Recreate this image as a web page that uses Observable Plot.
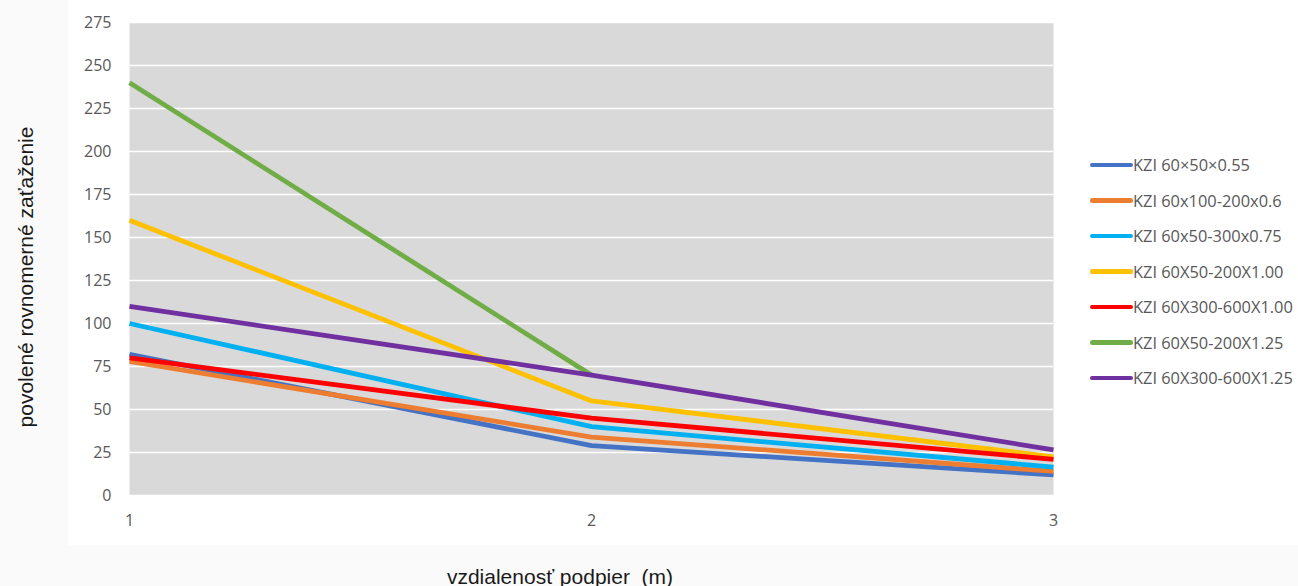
<!DOCTYPE html>
<html>
<head>
<meta charset="utf-8">
<script src="https://cdn.jsdelivr.net/npm/d3@7"></script>
<script src="https://cdn.jsdelivr.net/npm/@observablehq/plot@0.6"></script>
<style>
  html, body { margin: 0; padding: 0; background: #fafafa; }
  #wrap { position: relative; width: 1298px; height: 586px; overflow: hidden; }
  #panel { position: absolute; left: 68px; top: 0; width: 1230px; height: 545px; background: #ffffff; }
  #chart { position: absolute; left: 0; top: 0; }
  #legend { position: absolute; left: 1090px; top: 147px; font-family: "Open Sans", sans-serif; font-size: 16.4px; color: #595959; }
  .item { display: flex; align-items: center; height: 35.5px; white-space: nowrap; }
  .sw { width: 43px; height: 4.5px; border-radius: 2.5px; }
  .title { position: absolute; font-family: "Liberation Sans", Arial, sans-serif; font-size: 21px; color: #1a1a1a; white-space: pre; line-height: 1; }
  #ytitle { left: 25px; top: 277px; transform: translate(-50%, -50%) rotate(-90deg); }
  #xtitle { left: 560px; top: 576px; transform: translate(-50%, -50%); }
</style>
</head>
<body>
<div id="wrap">
  <div id="panel"></div>
  <div id="chart"></div>
  <div id="legend"></div>
  <div id="ytitle" class="title"></div>
  <div id="xtitle" class="title"></div>
</div>
<script>
const xValues = [1, 2, 3];
const seriesNames = [
  "KZI 60×50×0.55",
  "KZI 60x100-200x0.6",
  "KZI 60x50-300x0.75",
  "KZI 60X50-200X1.00",
  "KZI 60X300-600X1.00",
  "KZI 60X50-200X1.25",
  "KZI 60X300-600X1.25"
];
const seriesColors = ["#4472c4", "#ed7d31", "#00b0f0", "#ffc000", "#ff0000", "#70ad47", "#7030a0"];
const kzi_60x50x055 = [82, 29, 12];
const kzi_60x100_200x06 = [78, 34, 14];
const kzi_60x50_300x075 = [100, 40, 16.5];
const kzi_60x50_200x100 = [160, 55, 22.5];
const kzi_60x300_600x100 = [80, 45, 21];
const kzi_60x50_200x125 = [240, 70];
const kzi_60x300_600x125 = [110, 70, 26.5];
const yTicks = [0, 25, 50, 75, 100, 125, 150, 175, 200, 225, 250, 275];
const xTicks = [1, 2, 3];
const xTitle = "vzdialenosť podpier  (m)";
const yTitle = "povolené rovnomerné zaťaženie";

const seriesValues = [kzi_60x50x055, kzi_60x100_200x06, kzi_60x50_300x075, kzi_60x50_200x100, kzi_60x300_600x100, kzi_60x50_200x125, kzi_60x300_600x125];

const rows = [];
seriesNames.forEach((name, i) => {
  seriesValues[i].forEach((v, j) => rows.push({series: name, x: xValues[j], y: v}));
});

const chart = Plot.plot({
  width: 1298,
  height: 586,
  marginLeft: 129,
  marginRight: 245,
  marginTop: 22,
  marginBottom: 91,
  style: {background: "transparent", fontFamily: "'Open Sans', sans-serif", fontSize: "16px", color: "#595959"},
  x: {domain: [1, 3]},
  y: {domain: [0, 275]},
  color: {domain: seriesNames, range: seriesColors},
  marks: [
    Plot.frame({fill: "#d9d9d9", stroke: "none"}),
    Plot.gridY(yTicks, {stroke: "#ffffff", strokeOpacity: 1, strokeWidth: 1.6}),
    Plot.axisY(yTicks, {tickSize: 0, tickPadding: 18, label: null, fontSize: 16, fill: "#595959"}),
    Plot.axisX(xTicks, {tickSize: 0, tickPadding: 19, label: null, fontSize: 16, fill: "#595959", tickFormat: d => String(d)}),
    Plot.line(rows, {x: "x", y: "y", z: "series", stroke: "series", strokeWidth: 4.8, strokeLinejoin: "round", strokeLinecap: "butt"})
  ]
});
document.getElementById("chart").appendChild(chart);

document.getElementById("ytitle").textContent = yTitle;
document.getElementById("xtitle").textContent = xTitle;

const legend = document.getElementById("legend");
seriesNames.forEach((name, i) => {
  const item = document.createElement("div");
  item.className = "item";
  const sw = document.createElement("div");
  sw.className = "sw";
  sw.style.background = seriesColors[i];
  const label = document.createElement("span");
  label.textContent = name;
  item.appendChild(sw);
  item.appendChild(label);
  legend.appendChild(item);
});
</script>
</body>
</html>
